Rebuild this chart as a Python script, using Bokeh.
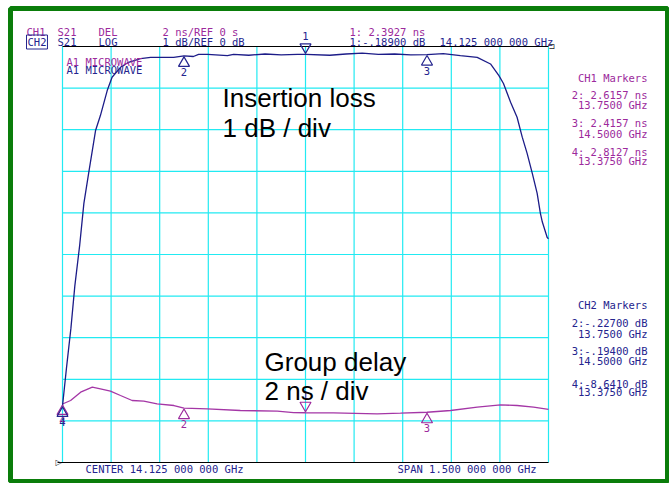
from bokeh.plotting import figure
from bokeh.models import Range1d, ColumnDataSource, Label
from bokeh.core.properties import value
from bokeh.transform import dodge
from bokeh.embed import file_html
from bokeh.resources import INLINE

# ---------------- data ----------------
freq_ticks = [13.375, 13.525, 13.675, 13.825, 13.975, 14.125, 14.275, 14.425, 14.575, 14.725, 14.875]
db_ticks = [0, -1, -2, -3, -4, -5, -6, -7, -8, -9, -10]

# CH2: S21 LOG (insertion loss, dB)
il_freq = [13.375, 13.387, 13.401, 13.413, 13.428, 13.441, 13.456, 13.477, 13.492, 13.513,
           13.528, 13.554, 13.579, 13.616, 13.647, 13.718, 13.750, 13.779, 13.795, 13.823,
           13.884, 13.903, 13.95, 14.0, 14.05, 14.1, 14.125, 14.2, 14.25, 14.3,
           14.35, 14.4, 14.45, 14.5, 14.55, 14.603, 14.655, 14.696, 14.722, 14.736,
           14.758, 14.778, 14.794, 14.809, 14.825, 14.840, 14.850, 14.856, 14.871, 14.875]
il_db = [-8.641, -7.75, -6.77, -5.76, -4.78, -3.77, -3.03, -2.02, -1.66, -1.06,
         -0.74, -0.50, -0.38, -0.29, -0.26, -0.26, -0.227, -0.24, -0.19, -0.19,
         -0.22, -0.19, -0.21, -0.18, -0.20, -0.19, -0.189, -0.21, -0.18, -0.16,
         -0.19, -0.18, -0.20, -0.194, -0.17, -0.22, -0.26, -0.42, -0.70, -0.89,
         -1.34, -1.70, -2.18, -2.57, -3.05, -3.53, -4.01, -4.22, -4.59, -4.62]

# CH1: S21 DEL (group delay, ns)
gd_freq = [13.375, 13.400, 13.431, 13.467, 13.492, 13.523, 13.554, 13.590, 13.626, 13.667,
           13.719, 13.750, 13.822, 13.924, 14.038, 14.088, 14.125, 14.211, 14.346, 14.418,
           14.500, 14.573, 14.655, 14.727, 14.778, 14.829, 14.875]
gd_ns = [2.8127, 2.98, 3.38, 3.62, 3.54, 3.43, 3.22, 2.98, 2.95, 2.82,
         2.74, 2.6157, 2.58, 2.50, 2.47, 2.40, 2.3927, 2.39, 2.34, 2.37,
         2.4157, 2.50, 2.66, 2.77, 2.74, 2.66, 2.55]

marker_ids = ["1", "2", "3", "4"]
marker_freq = [14.125, 13.75, 14.5, 13.375]
marker_il = [-0.189, -0.227, -0.194, -8.641]
marker_gd = [2.3927, 2.6157, 2.4157, 2.8127]

# ---------------- layout helpers (canvas pixels -> data) ----------------
W, H = 669, 483
FL, FT, FR, FB = 10, 8, 667, 481          # frame edges on the canvas
FX0, FX1 = 62, 548                          # 13.375 GHz / 14.875 GHz
FY0, FY1 = 46, 462                          # 0 dB / -10 dB
PPG = (FX1 - FX0) / 1.5
PPD = (FY1 - FY0) / 10.0


def gx(px):
    return 13.375 + (px - FX0) / PPG


def gy(py):
    return -(py - FY0) / PPD


def gns(py):
    return (FY1 - py) / PPD * 2.0


PURPLE = "#9c2a9c"
BLUE = "#24248e"
TR_BLUE = "#1c1c88"
TR_PURPLE = "#a436a6"
CYAN = "#22eaf2"
GREEN = "#0a7d0a"
MONO = "DejaVu Sans Mono"
MSIZE = "10.5px"

p = figure(width=W, height=H, x_range=Range1d(gx(FL), gx(FR)),
           y_range=Range1d(gy(FB), gy(FT)),
           output_backend="svg", toolbar_location=None,
           min_border_left=FL, min_border_top=FT, min_border_right=W - FR,
           min_border_bottom=H - FB,
           x_axis_type=None, y_axis_type=None, title=None)
p.extra_y_ranges = {"gd": Range1d(gns(FB), gns(FT))}
p.grid.visible = False
p.outline_line_color = GREEN
p.outline_line_width = 5
p.background_fill_color = "white"
p.border_fill_color = "white"

# grid
fmin, fmax = freq_ticks[0], freq_ticks[-1]
dmin, dmax = db_ticks[-1], db_ticks[0]
p.segment(x0=freq_ticks, y0=[dmin] * len(freq_ticks), x1=freq_ticks, y1=[dmax] * len(freq_ticks),
          line_color=CYAN, line_width=1.2)
p.segment(x0=[fmin] * 9, y0=db_ticks[1:-1], x1=[fmax] * 9, y1=db_ticks[1:-1],
          line_color=CYAN, line_width=1.2)
p.segment(x0=[fmin, gx(57)], y0=[dmax, dmin], x1=[fmax, fmax], y1=[dmax, dmin],
          line_color="black", line_width=1.2)

# traces
p.line(gd_freq, gd_ns, y_range_name="gd", line_color=TR_PURPLE, line_width=1.3)
p.line(il_freq, il_db, line_color=TR_BLUE, line_width=1.3)

TRI = 11
TRI_OFF = 7.3  # px from trace to triangle centre


def markers(yvals, color, rng, unit):
    kw = {} if rng is None else {"y_range_name": rng}
    yr = p.y_range if rng is None else p.extra_y_ranges[rng]
    src1 = ColumnDataSource(dict(x=marker_freq[:1], y=yvals[:1], t=marker_ids[:1]))
    p.scatter(x="x", y=dodge("y", TRI_OFF * unit, range=yr), source=src1, marker="inverted_triangle",
              size=TRI, fill_color=None, line_color=color, line_width=1.2, **kw)
    p.text(x="x", y="y", text="t", source=src1, text_color=color,
           text_font=value(MONO), text_font_size=MSIZE, text_align="center",
           text_baseline="middle", y_offset=-18, **kw)
    src2 = ColumnDataSource(dict(x=marker_freq[1:], y=yvals[1:], t=marker_ids[1:]))
    p.scatter(x="x", y=dodge("y", -TRI_OFF * unit, range=yr), source=src2, marker="triangle",
              size=TRI, fill_color=None, line_color=color, line_width=1.2, **kw)
    p.text(x="x", y="y", text="t", source=src2, text_color=color,
           text_font=value(MONO), text_font_size=MSIZE, text_align="center",
           text_baseline="middle", y_offset=16, **kw)


markers(marker_gd, PURPLE, "gd", 2.0 / PPD)
markers(marker_il, BLUE, None, 1.0 / PPD)


def texts(items, color, font=MONO, size=MSIZE, align="left", baseline="middle"):
    src = ColumnDataSource(dict(x=[gx(a) for a, b, c in items], y=[gy(b) for a, b, c in items],
                                t=[c for a, b, c in items]))
    p.text(x="x", y="y", text="t", source=src, text_color=color, text_font=value(font),
           text_font_size=size, text_align=align, text_baseline=baseline)


# header
texts([(26, 31, "CH1"), (57, 31, "S21"), (98, 31, "DEL"), (162, 31, "2 ns/REF 0 s"),
       (349, 31, "1: 2.3927 ns")], PURPLE)
texts([(57, 41.5, "S21"), (98, 41.5, "LOG"), (162, 41.5, "1 dB/REF 0 dB"),
       (349, 41.5, "1:-.18900 dB"), (439, 41.5, "14.125 000 000 GHz")], BLUE)
p.add_layout(Label(x=gx(26), y=gy(41.5), text="CH2", text_color=BLUE, text_font=MONO,
                   text_font_size=MSIZE, text_baseline="middle", border_line_color=BLUE,
                   border_line_width=1, padding=1))
texts([(548, 46, "\u2290")], "#222222", font="DejaVu Sans", size="8px")
texts([(55, 462, "\u25b7")], "#222222", font="DejaVu Sans", size="8px")

# inside labels
texts([(66, 61, "A1 MICROWAVE")], PURPLE)
texts([(66, 69.5, "A1 MICROWAVE")], BLUE)

# right panel
texts([(647, 77, "CH1 Markers"), (647, 94, "2: 2.6157 ns"), (647, 104, "13.7500 GHz"),
       (647, 122, "3: 2.4157 ns"), (647, 133, "14.5000 GHz"), (647, 151, "4: 2.8127 ns"),
       (647, 160, "13.3750 GHz")], PURPLE, align="right")
texts([(647, 304, "CH2 Markers"), (647, 322, "2:-.22700 dB"), (647, 333, "13.7500 GHz"),
       (647, 350, "3:-.19400 dB"), (647, 360, "14.5000 GHz"), (647, 383, "4:-8.6410 dB"),
       (647, 391, "13.3750 GHz")], BLUE, align="right")

# bottom
texts([(85, 468, "CENTER 14.125 000 000 GHz"), (397, 468, "SPAN 1.500 000 000 GHz")], BLUE)

# big annotations
texts([(222, 97, "Insertion loss"), (222, 127, "1 dB / div"),
       (264, 361, "Group delay"), (264, 390, "2 ns / div")], "black",
      font="Liberation Sans", size="26px", baseline="alphabetic")

open("out.html", "w").write(file_html(p, INLINE))
